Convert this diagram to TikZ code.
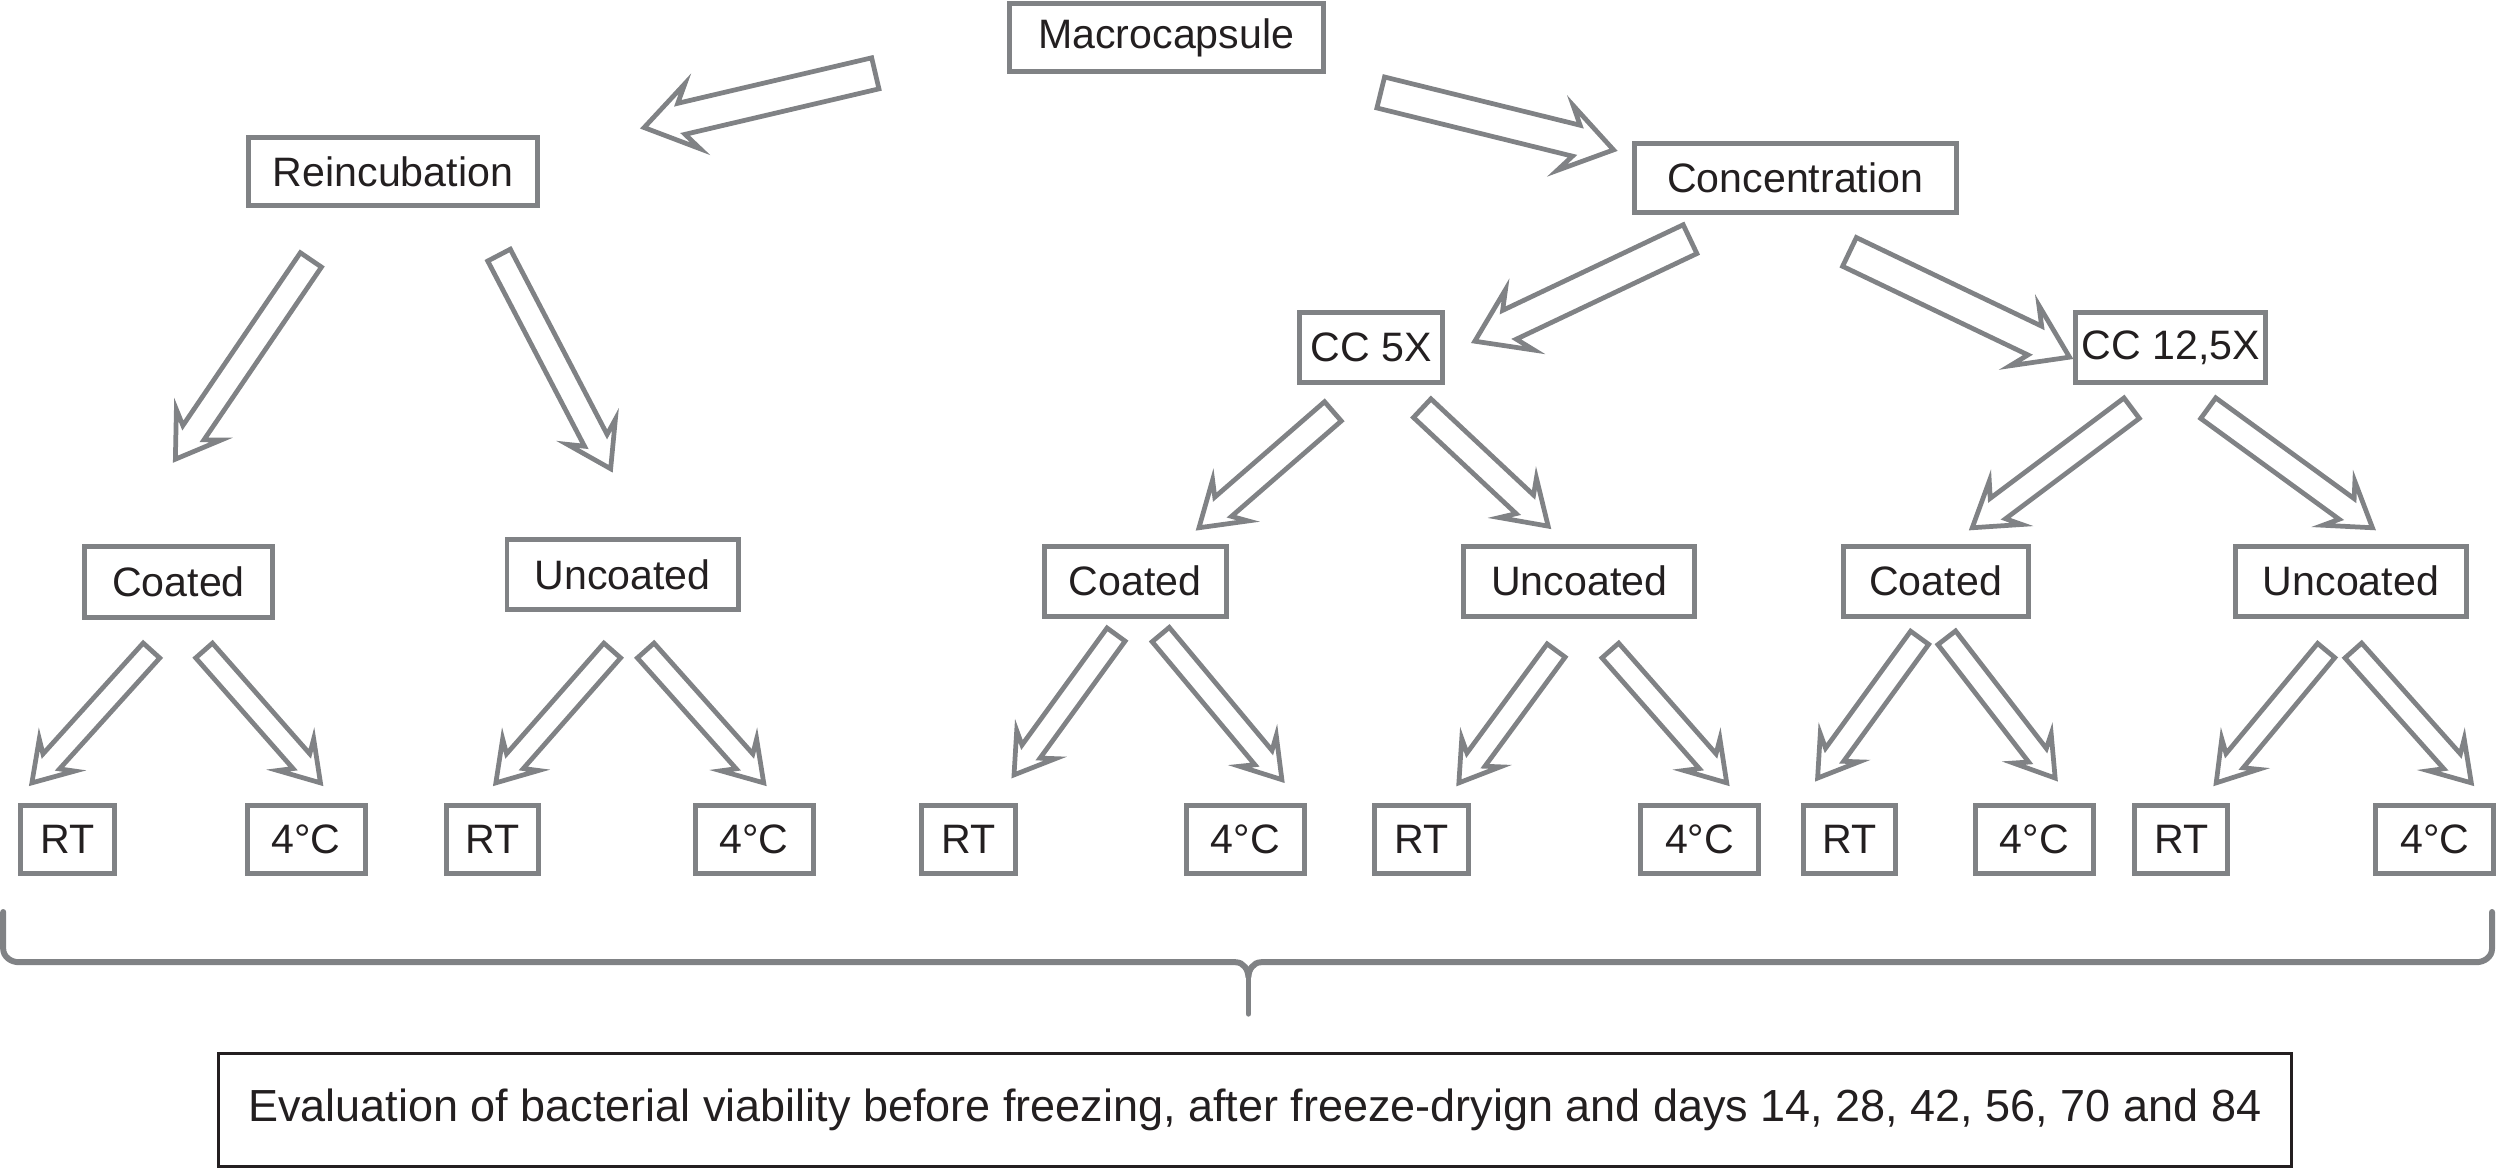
\documentclass[tikz,border=0pt]{standalone}
\usepackage{fontspec}
\setmainfont{Liberation Sans}
\usetikzlibrary{calc}
\definecolor{bgray}{RGB}{128,130,133}
\definecolor{tblack}{RGB}{35,31,32}
\newlength\ul \setlength\ul{0.15944mm}
% #1 name, #2 tail, #3 tip, #4 half shaft, #5 half head, #6 head length (in \ul)
\newcommand\blockarr[6]{%
  \coordinate (#1-t) at #2; \coordinate (#1-h) at #3;
  \draw[barr] let \p1=(#1-t), \p2=(#1-h),
     \n1={atan2(\y2-\y1,\x2-\x1)},
     \n2={veclen(\x2-\x1,\y2-\y1)-#6*\ul},
     \n5={veclen(\x2-\x1,\y2-\y1)-1.3*#6*\ul},
     \n3={#4*\ul}, \n4={#5*\ul} in
     ($(\p1)+(\n1+90:\n3)$) --
     ($(\p1)+(\n1:\n2)+(\n1+90:\n3)$) --
     ($(\p1)+(\n1:\n5)+(\n1+90:\n4)$) --
     (\p2) --
     ($(\p1)+(\n1:\n5)+(\n1-90:\n4)$) --
     ($(\p1)+(\n1:\n2)+(\n1-90:\n3)$) --
     ($(\p1)+(\n1-90:\n3)$) -- cycle;}
\tikzset{
  bx/.style={draw=bgray, line width=1.4pt, fill=white, text=tblack,
    minimum height=43\ul, inner sep=0pt, font=\fontsize{11.7}{14}\selectfont},
  barr/.style={draw=bgray, line width=1.35pt, fill=white, line join=miter},
  bracestyle/.style={draw=bgray, line width=1.7pt, line cap=round},
}
\begin{document}
\begin{tikzpicture}[x=0.15944mm, y=-0.15944mm]
\useasboundingbox (0,0) rectangle (1568,732);

% boxes
\node[bx, minimum width=197\ul] (mac) at (731.5,23.5) {Macrocapsule};
\node[bx, minimum width=181\ul] (reinc) at (246.5,107.5) {Reincubation};
\node[bx, minimum width=202\ul] (conc) at (1126,111.5) {Concentration};
\node[bx, minimum width=90\ul, minimum height=44\ul] (cc5) at (860,218) {CC 5X};
\node[bx, minimum width=119\ul, minimum height=44\ul] (cc12) at (1361.5,218) {CC 12,5X};

\node[bx, minimum width=118\ul, minimum height=44\ul] (coat1) at (112,365) {Coated};
\node[bx, minimum width=145\ul, minimum height=44\ul] (unc1) at (390.5,360.5) {Uncoated};
\node[bx, minimum width=114\ul, minimum height=44\ul] (coat2) at (712,364.5) {Coated};
\node[bx, minimum width=145\ul, minimum height=44\ul] (unc2) at (990.5,364.5) {Uncoated};
\node[bx, minimum width=116\ul, minimum height=44\ul] (coat3) at (1214,364.5) {Coated};
\node[bx, minimum width=145\ul, minimum height=44\ul] (unc3) at (1474.5,364.5) {Uncoated};

\node[bx, minimum width=59\ul] (rt1) at (42.5,526.5) {RT};
\node[bx, minimum width=74\ul] (c1) at (192,526.5) {4°C};
\node[bx, minimum width=58\ul] (rt2) at (309,526.5) {RT};
\node[bx, minimum width=74\ul] (c2) at (473,526.5) {4°C};
\node[bx, minimum width=59\ul] (rt3) at (607.5,526.5) {RT};
\node[bx, minimum width=74\ul] (c3) at (781,526.5) {4°C};
\node[bx, minimum width=59\ul] (rt4) at (891.5,526.5) {RT};
\node[bx, minimum width=74\ul] (c4) at (1066,526.5) {4°C};
\node[bx, minimum width=58\ul] (rt5) at (1160,526.5) {RT};
\node[bx, minimum width=74\ul] (c5) at (1276,526.5) {4°C};
\node[bx, minimum width=58\ul] (rt6) at (1368,526.5) {RT};
\node[bx, minimum width=74\ul] (c6) at (1527,526.5) {4°C};

% block arrows
\blockarr{a1}{(549,46)}{(404,80)}{10}{21}{24}
\blockarr{a2}{(866,58)}{(1012,94)}{10}{21}{24}
\blockarr{a3}{(1060,150)}{(925,214)}{10}{21}{24}
\blockarr{a4}{(1160,158)}{(1298,224)}{10}{21}{24}

\blockarr{a5}{(195,163)}{(110,288)}{8}{17}{20}
\blockarr{a6}{(313,160)}{(383,294)}{8}{17}{20}
\blockarr{a7}{(836,258)}{(752,331)}{8}{17}{20}
\blockarr{a8}{(892,256)}{(971,330)}{8}{17}{20}
\blockarr{a9}{(1337,256)}{(1237,331)}{8}{17}{20}
\blockarr{a10}{(1385,256)}{(1488,331)}{8}{17}{20}

\blockarr{b1}{(95,408)}{(20,491)}{7}{15}{18}
\blockarr{b2}{(128,408)}{(201,491)}{7}{15}{18}
\blockarr{b3}{(384,408)}{(311,491)}{7}{15}{18}
\blockarr{b4}{(405,408)}{(479,491)}{7}{15}{18}
\blockarr{b5}{(700,398)}{(636,486)}{7}{15}{18}
\blockarr{b6}{(728,398)}{(804,489)}{7}{15}{18}
\blockarr{b7}{(976,408)}{(915,491)}{7}{15}{18}
\blockarr{b8}{(1010,408)}{(1083,491)}{7}{15}{18}
\blockarr{b9}{(1204,400)}{(1140,488)}{7}{15}{18}
\blockarr{b10}{(1221,400)}{(1289,488)}{7}{15}{18}
\blockarr{b11}{(1459,408)}{(1390,491)}{7}{15}{18}
\blockarr{b12}{(1476,408)}{(1550,491)}{7}{15}{18}

% brace
\coordinate (brL) at (2,572);
\coordinate (brR) at (1563,572);
\coordinate (brM) at (783,613);
\coordinate (brTip) at (783,636);
\draw[bracestyle] (brL) -- (2,595) to[out=-90,in=180] (12,603.5) -- (775,603.5)
   to[out=0,in=90] (brM) to[out=90,in=180] (791,603.5) -- (1553,603.5)
   to[out=0,in=-90] (1563,595) -- (brR);
\draw[bracestyle, line width=1.5pt] (brM) -- (brTip);

% evaluation box
\node[draw=tblack, line width=0.9pt, fill=white, text=tblack, minimum width=1300\ul,
  minimum height=71\ul, inner sep=0pt, font=\fontsize{12.8}{15}\selectfont]
  (eval) at (787,696) {Evaluation of bacterial viability before freezing, after freeze-dryign and days 14, 28, 42, 56, 70 and 84};
\draw[draw=tblack, line width=1.6pt] (eval.south west) -- (eval.south east);
\end{tikzpicture}
\end{document}
